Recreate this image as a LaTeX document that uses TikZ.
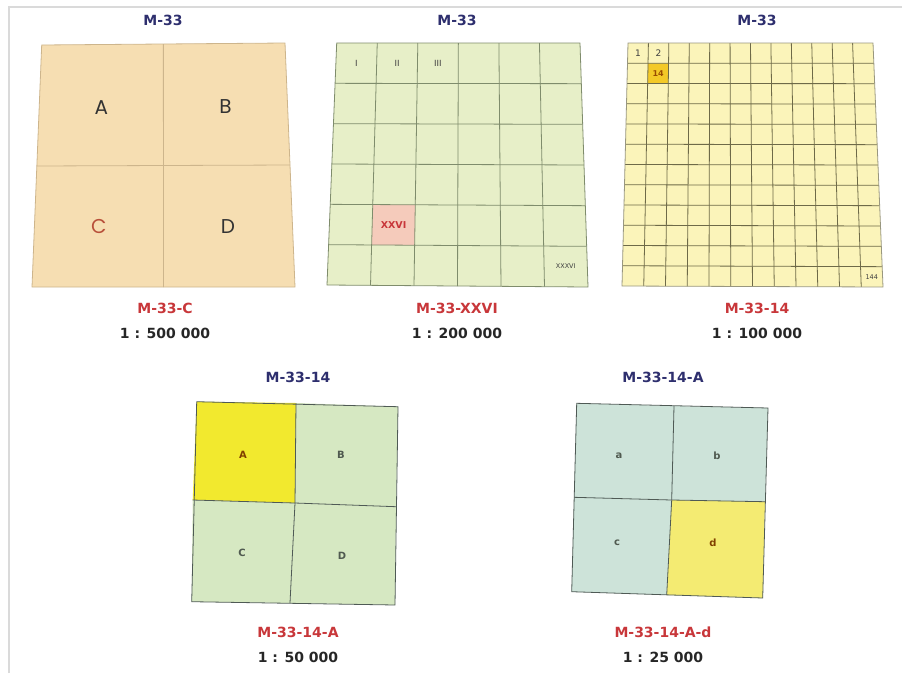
\documentclass[tikz,border=0pt]{standalone}
\usepackage{fontspec}
\setmainfont{DejaVu Sans}
\newfontfamily\geofont{Poppins}
\usepackage{tikz}
\usetikzlibrary{calc}

\definecolor{navy}{HTML}{2E2F6E}
\definecolor{sheetred}{HTML}{C8373A}
\definecolor{orangebg}{HTML}{F6DEB2}
\definecolor{orangeln}{HTML}{CDB58C}
\definecolor{greenbg}{HTML}{E7EFC8}
\definecolor{greenln}{HTML}{7F8C6C}
\definecolor{yellowbg}{HTML}{FBF4BA}
\definecolor{yellowln}{HTML}{6E6A48}
\definecolor{leafbg}{HTML}{D6E8C2}
\definecolor{tealbg}{HTML}{CDE3D9}
\definecolor{brightyel}{HTML}{F2E92E}
\definecolor{paleyel}{HTML}{F4EB72}
\definecolor{cellln}{HTML}{4F5A55}
\definecolor{pinkcell}{HTML}{F5CBBB}
\definecolor{ambercell}{HTML}{F3C928}
\definecolor{framegrey}{HTML}{DADADA}
\definecolor{lettergrey}{HTML}{505A50}
\definecolor{brickred}{HTML}{B8503A}

% point inside a sheet: #1 name, #2 sheet prefix, #3 across, #4 down
\newcommand{\gridpt}[4]{%
  \coordinate (#1-t) at ($(#2tl)!#3!(#2tr)$);
  \coordinate (#1-b) at ($(#2bl)!#3!(#2br)$);
  \coordinate (#1) at ($(#1-t)!#4!(#1-b)$);}

\begin{document}
\begin{tikzpicture}[x=1pt, y=-1pt,
    title/.style={font=\bfseries\fontsize{14}{14}\selectfont, text=navy},
    sheetname/.style={font=\bfseries\fontsize{14}{14}\selectfont, text=sheetred},
    ratio/.style={font=\bfseries\fontsize{14}{14}\selectfont, text=black!85},
    biglet/.style={font=\geofont\fontsize{20}{20}\selectfont, text=#1},
    smalllet/.style={font=\bfseries\fontsize{10}{10}\selectfont, text=#1},
    tinylabel/.style={font=\fontsize{#1}{#1}\selectfont, text=black!75},
    gridline/.style={draw=#1, line width=0.8pt}
]
    \useasboundingbox (0,0) rectangle (902,673);
    \draw[framegrey, line width=1.2pt] (9,673) -- (9,7) -- (902,7);

    % Sheet 1 : 500 000
    \coordinate (P1tl) at (41.7,45);
    \coordinate (P1tr) at (285,43);
    \coordinate (P1br) at (295,287);
    \coordinate (P1bl) at (32,287);
    \fill[orangebg] (P1tl) -- (P1tr) -- (P1br) -- (P1bl) -- cycle;
    \draw[gridline=orangeln] (P1tl) -- (P1tr) -- (P1br) -- (P1bl) -- cycle;
    \draw[gridline=orangeln] ($(P1tl)!.5!(P1tr)$) -- ($(P1bl)!.5!(P1br)$);
    \draw[gridline=orangeln] ($(P1tl)!.5!(P1bl)$) -- ($(P1tr)!.5!(P1br)$);
    \gridpt{q1a}{P1}{.25}{.26}
    \gridpt{q1b}{P1}{.75}{.26}
    \gridpt{q1c}{P1}{.25}{.75}
    \gridpt{q1d}{P1}{.75}{.75}
    \node[biglet=black!80] (lA) at (q1a) {A};
    \node[biglet=black!80] (lB) at (q1b) {B};
    \node[biglet=brickred] (lC) at (q1c) {C};
    \node[biglet=black!80] (lD) at (q1d) {D};
    \node[title] (t1) at (163,20) {M-33};
    \node[sheetname] (n1) at (165,308) {M-33-C};
    \node[ratio] (r1) at (165,333) {1 : 500 000};

    % Sheet 1 : 200 000
    \coordinate (P2tl) at (336.7,43);
    \coordinate (P2tr) at (580,43);
    \coordinate (P2br) at (588,287);
    \coordinate (P2bl) at (327,285);
    \fill[greenbg] (P2tl) -- (P2tr) -- (P2br) -- (P2bl) -- cycle;
    \gridpt{x0}{P2}{1/6}{4/6}
    \gridpt{x1}{P2}{2/6}{4/6}
    \gridpt{x2}{P2}{2/6}{5/6}
    \gridpt{x3}{P2}{1/6}{5/6}
    \fill[pinkcell] (x0) -- (x1) -- (x2) -- (x3) -- cycle;
    \foreach \i in {1,...,5} {
        \draw[gridline=greenln] ($(P2tl)!\i/6!(P2tr)$) -- ($(P2bl)!\i/6!(P2br)$);
        \draw[gridline=greenln] ($(P2tl)!\i/6!(P2bl)$) -- ($(P2tr)!\i/6!(P2br)$);
    }
    \draw[gridline=greenln] (P2tl) -- (P2tr) -- (P2br) -- (P2bl) -- cycle;
    \gridpt{c1}{P2}{1/12}{1/12}
    \gridpt{c2}{P2}{3/12}{1/12}
    \gridpt{c3}{P2}{5/12}{1/12}
    \gridpt{c26}{P2}{3/12}{9/12}
    \gridpt{c36}{P2}{11/12}{11/12}
    \node[tinylabel=8.5] (rI) at (c1) {I};
    \node[tinylabel=8.5] (rII) at (c2) {II};
    \node[tinylabel=8.5] (rIII) at (c3) {III};
    \node[font=\bfseries\fontsize{9.5}{9.5}\selectfont, text=sheetred] (rXXVI) at (c26) {XXVI};
    \node[tinylabel=6.5] (rXXXVI) at (c36) {XXXVI};
    \node[title] (t2) at (457,20) {M-33};
    \node[sheetname] (n2) at (457,308) {M-33-XXVI};
    \node[ratio] (r2) at (457,333) {1 : 200 000};

    % Sheet 1 : 100 000
    \coordinate (P3tl) at (628,43);
    \coordinate (P3tr) at (873,43);
    \coordinate (P3br) at (883,287);
    \coordinate (P3bl) at (622,286);
    \fill[yellowbg] (P3tl) -- (P3tr) -- (P3br) -- (P3bl) -- cycle;
    \gridpt{y0}{P3}{1/12}{1/12}
    \gridpt{y1}{P3}{2/12}{1/12}
    \gridpt{y2}{P3}{2/12}{2/12}
    \gridpt{y3}{P3}{1/12}{2/12}
    \fill[ambercell] (y0) -- (y1) -- (y2) -- (y3) -- cycle;
    \foreach \i in {1,...,11} {
        \draw[gridline=yellowln] ($(P3tl)!\i/12!(P3tr)$) -- ($(P3bl)!\i/12!(P3br)$);
        \draw[gridline=yellowln] ($(P3tl)!\i/12!(P3bl)$) -- ($(P3tr)!\i/12!(P3br)$);
    }
    \draw[gridline=yellowln!70] (P3tl) -- (P3tr) -- (P3br) -- (P3bl) -- cycle;
    \gridpt{s1}{P3}{1/24}{1/24}
    \gridpt{s2}{P3}{3/24}{1/24}
    \gridpt{s14}{P3}{3/24}{3/24}
    \gridpt{s144}{P3}{23/24}{23/24}
    \node[tinylabel=9] (k1) at (s1) {1};
    \node[tinylabel=9] (k2) at (s2) {2};
    \node[font=\bfseries\fontsize{8}{8}\selectfont, text=orange!60!black] (k14) at (s14) {14};
    \node[tinylabel=6.5] (k144) at (s144) {144};
    \node[title] (t3) at (757,20) {M-33};
    \node[sheetname] (n3) at (757,308) {M-33-14};
    \node[ratio] (r3) at (757,333) {1 : 100 000};

    % Sheet 1 : 50 000
    \coordinate (a00) at (196.7,401.7);
    \coordinate (a10) at (296,403);
    \coordinate (a20) at (398,406.7);
    \coordinate (a01) at (192.7,500);
    \coordinate (a11) at (295,503);
    \coordinate (a21) at (396,506.7);
    \coordinate (a02) at (191.7,601.7);
    \coordinate (a12) at (290,603);
    \coordinate (a22) at (395,605);
    \fill[brightyel] (a00) -- (a10) -- (a11) -- (a01) -- cycle;
    \fill[leafbg] (a10) -- (a20) -- (a21) -- (a11) -- cycle;
    \fill[leafbg] (a01) -- (a11) -- (a12) -- (a02) -- cycle;
    \fill[leafbg] (a11) -- (a21) -- (a22) -- (a12) -- cycle;
    \draw[gridline=cellln] (a00) -- (a20) -- (a22) -- (a02) -- cycle;
    \draw[gridline=cellln] (a10) -- (a11) -- (a12);
    \draw[gridline=cellln] (a01) -- (a11) -- (a21);
    \node[smalllet=orange!50!black] (mA) at (243,455) {A};
    \node[smalllet=lettergrey] (mB) at (341,455) {B};
    \node[smalllet=lettergrey] (mC) at (242,553) {C};
    \node[smalllet=lettergrey] (mD) at (342,556) {D};
    \node[title] (t4) at (298,377) {M-33-14};
    \node[sheetname] (n4) at (298,632) {M-33-14-A};
    \node[ratio] (r4) at (298,657) {1 : 50 000};

    % Sheet 1 : 25 000
    \coordinate (b00) at (576.7,403.3);
    \coordinate (b10) at (674,406);
    \coordinate (b20) at (768,408);
    \coordinate (b01) at (574,497.3);
    \coordinate (b11) at (671.7,500);
    \coordinate (b21) at (765,501.7);
    \coordinate (b02) at (571.7,591.7);
    \coordinate (b12) at (666.7,595);
    \coordinate (b22) at (762.7,598);
    \fill[tealbg] (b00) -- (b10) -- (b11) -- (b01) -- cycle;
    \fill[tealbg] (b10) -- (b20) -- (b21) -- (b11) -- cycle;
    \fill[tealbg] (b01) -- (b11) -- (b12) -- (b02) -- cycle;
    \fill[paleyel] (b11) -- (b21) -- (b22) -- (b12) -- cycle;
    \draw[gridline=cellln] (b00) -- (b20) -- (b22) -- (b02) -- cycle;
    \draw[gridline=cellln] (b10) -- (b11) -- (b12);
    \draw[gridline=cellln] (b01) -- (b11) -- (b21);
    \node[smalllet=lettergrey] (ma) at (619,456) {a};
    \node[smalllet=lettergrey] (mb) at (717,456) {b};
    \node[smalllet=lettergrey] (mc) at (617,543) {c};
    \node[smalllet=orange!50!black] (md) at (713,543) {d};
    \node[title] (t5) at (663,377) {M-33-14-A};
    \node[sheetname] (n5) at (663,632) {M-33-14-A-d};
    \node[ratio] (r5) at (663,657) {1 : 25 000};
\end{tikzpicture}
\end{document}
